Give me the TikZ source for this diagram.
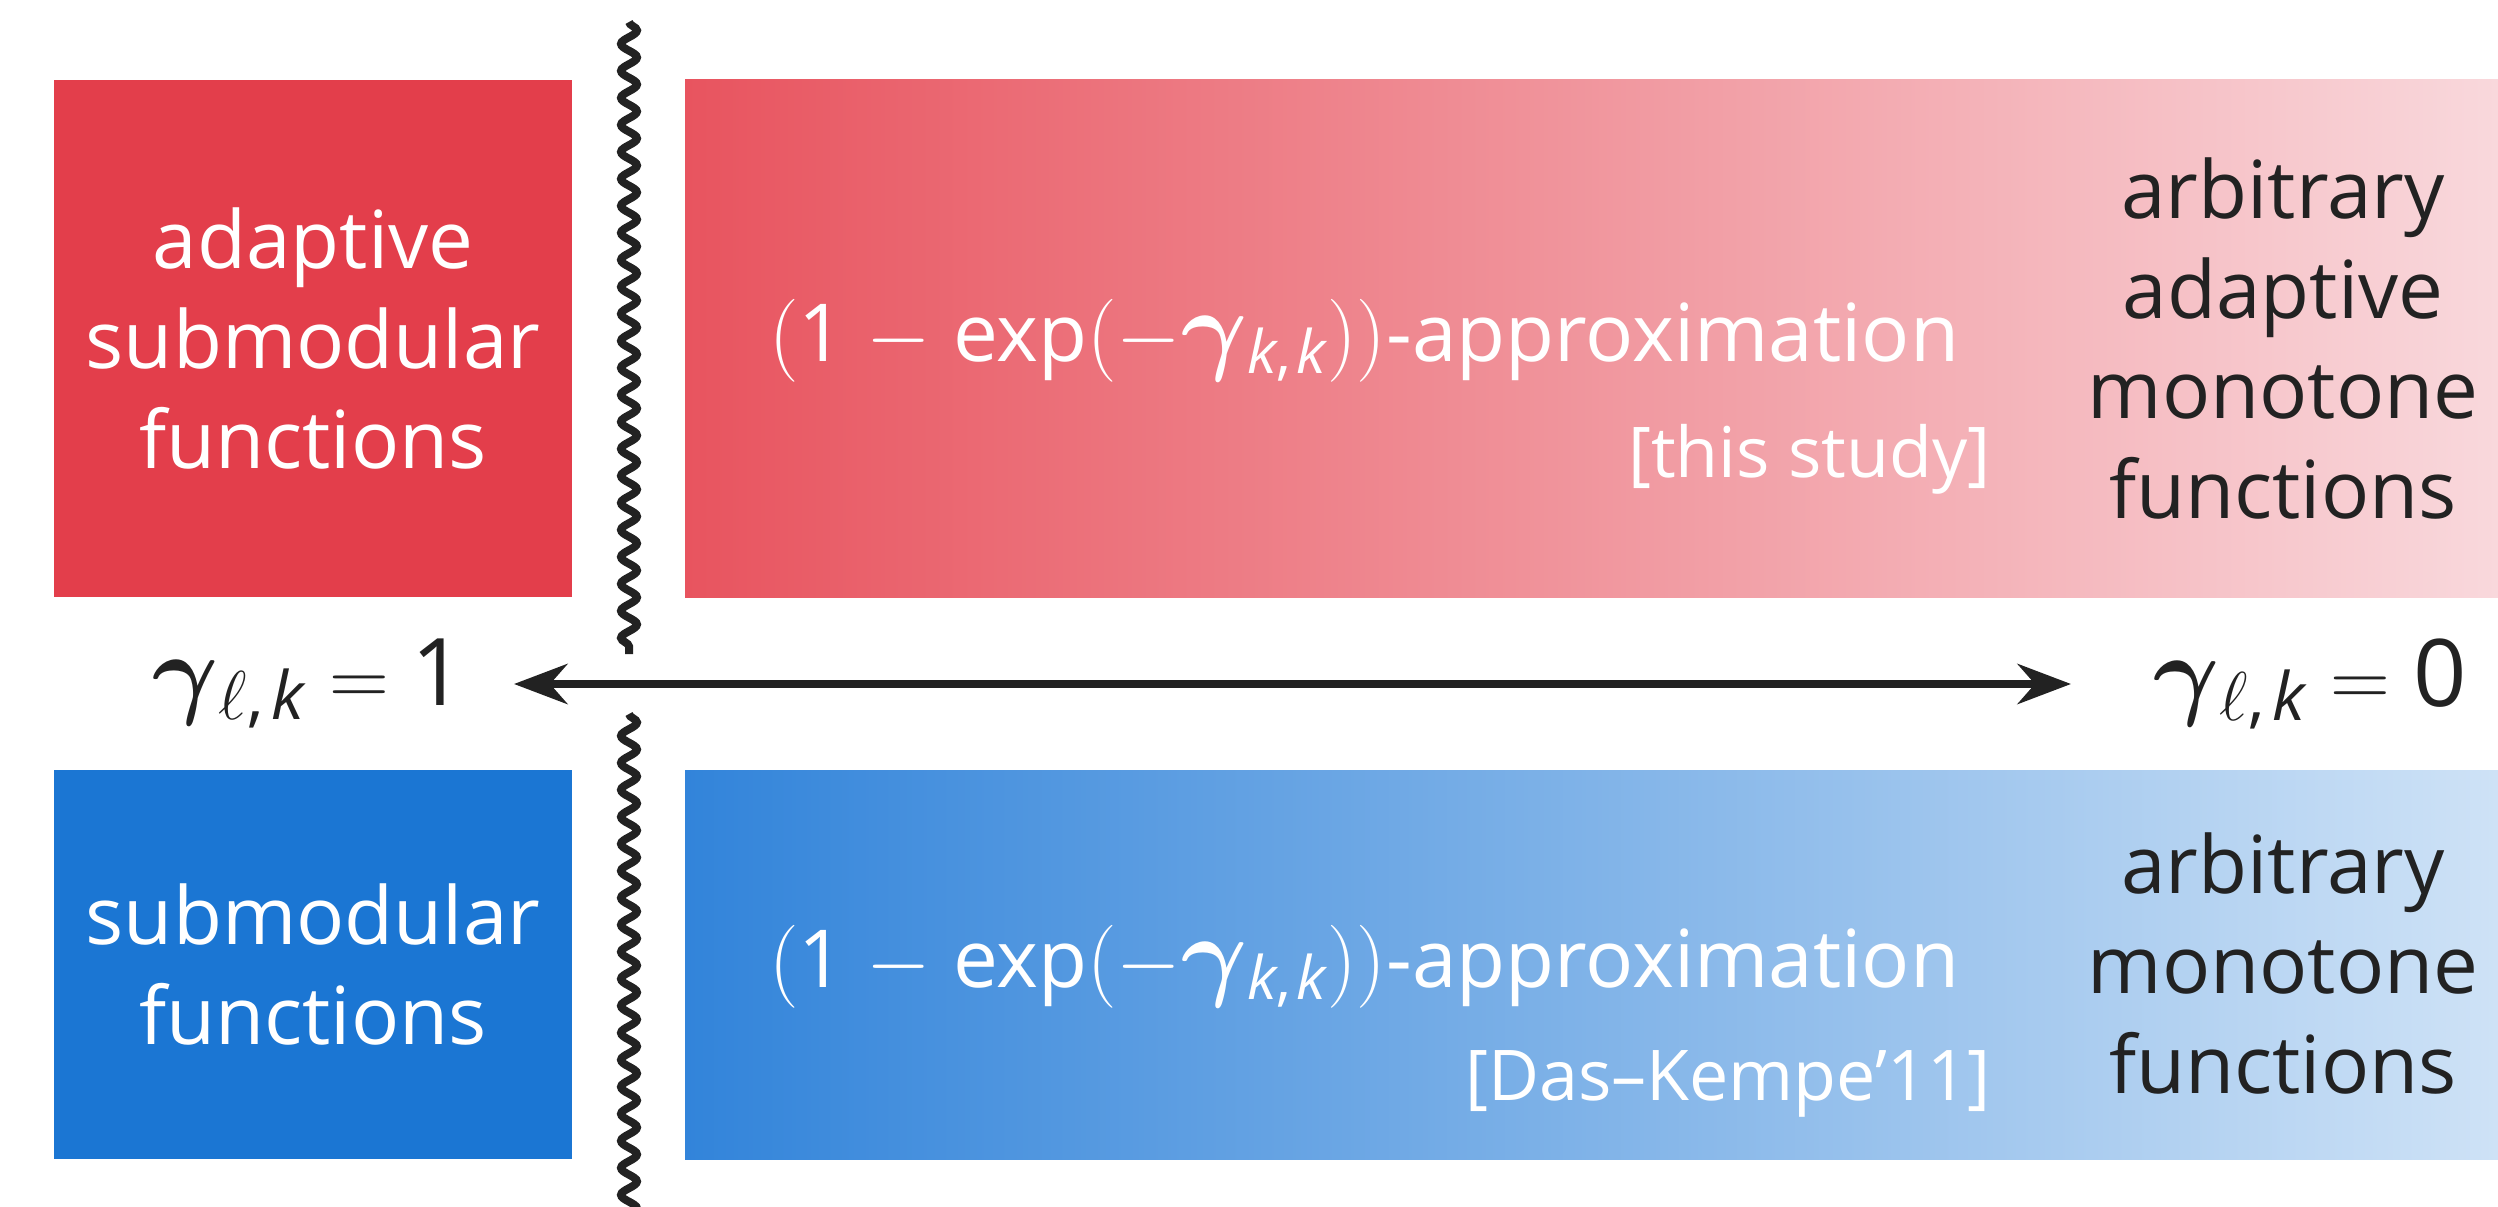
\documentclass[tikz,border=0pt]{standalone}
\usepackage{bm}
\usepackage{graphicx}
\usepackage{fontspec}
\setmainfont{Open Sans}
\usetikzlibrary{arrows.meta,decorations.pathmorphing}

\definecolor{redbox}{RGB}{227,62,75}
\definecolor{redA}{RGB}{232,84,95}
\definecolor{redB}{RGB}{249,216,220}
\definecolor{bluebox}{RGB}{27,118,211}
\definecolor{blueA}{RGB}{50,132,218}
\definecolor{blueB}{RGB}{206,226,246}
\definecolor{ink}{RGB}{34,34,34}

% lowered subscript in a given size
\newcommand\sbs[2]{\raisebox{-0.155em}{\fontsize{#1}{#1}\selectfont #2}}
% a slightly enlarged bold gamma
\newcommand\bgam{\scalebox{1.22}{$\bm{\gamma}$}}
\newcommand\apx{$($1\;$-$\;exp$(-$\bgam\sbs{18pt}{\textit{k},\hspace{0.08em}\textit{k}}$))$-approximation}
\newcommand\gl[1]{\bgam\sbs{20pt}{$\ell$,\hspace{0.12em}\textit{k}}$\;=\;$#1}

\tikzset{
  body/.style={inner sep=0pt, align=center, font=\fontsize{24pt}{30pt}\selectfont},
  wtext/.style={body, text=white},
  dtext/.style={body, text=ink},
  cite/.style={inner sep=0pt, text=white, font=\fontsize{21pt}{25pt}\selectfont, anchor=base east},
  ratio/.style={inner sep=0pt, text=ink, font=\fontsize{28pt}{34pt}\selectfont, anchor=base west},
  wave/.style={draw=ink, line width=2.4pt, decorate,
    decoration={snake, segment length=8.1pt, amplitude=2.4pt}},
  axis/.style={draw=ink, line width=2.5pt,
    {Stealth[length=16pt,width=12pt]}-{Stealth[length=16pt,width=12pt]}}
}

\begin{document}
\begin{tikzpicture}[x=0.3pt, y=-0.3pt]
  \useasboundingbox (0,0) rectangle (2498,1207);

  % coloured panels
  \fill[redbox] (54,80) rectangle (572,597);
  \shade[left color=redA, right color=redB] (685,80) rectangle (2498,597);
  \fill[bluebox] (54,770) rectangle (572,1159);
  \shade[left color=blueA, right color=blueB] (685,770) rectangle (2498,1159);

  % panel texts
  \node[wtext] (adsub) at (313,338.5) {adaptive\\submodular\\functions};
  \node[wtext] (sub) at (313,964.5) {submodular\\functions};
  \node[dtext] (arbad) at (2283,338.5) {arbitrary\\adaptive\\monotone\\functions};
  \node[dtext] (arb) at (2283,963.5) {arbitrary\\monotone\\functions};

  \node[wtext, anchor=base east] (apx1) at (1960,361) {\apx};
  \node[cite] (c1) at (1991,477) {[this study]};
  \node[wtext, anchor=base east] (apx2) at (1960,987) {\apx};
  \node[cite] (c2) at (1991,1100) {[Das–Kempe’11]};

  % axis with its end values
  \node[ratio] (one) at (152,705) {\gl{1}};
  \node[ratio] (zero) at (2153,706) {\gl{0}};
  \coordinate (aL) at (514,684);
  \coordinate (aR) at (2071,684);
  \draw[axis] (aL) -- (aR);

  % wavy separator
  \coordinate (w1) at (629,22);
  \coordinate (w2) at (629,654);
  \coordinate (w3) at (629,714);
  \coordinate (w4) at (629,1220);
  \draw[wave] (w1) -- (w2);
  \draw[wave] (w3) -- (w4);
\end{tikzpicture}
\end{document}
